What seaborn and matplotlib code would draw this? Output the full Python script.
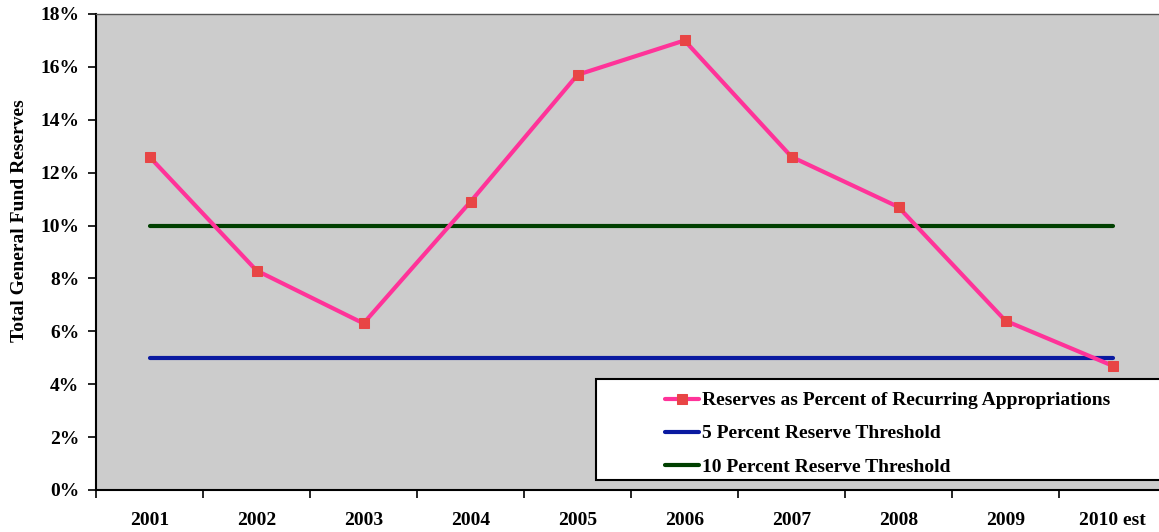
import matplotlib
matplotlib.use("Agg")
import matplotlib.pyplot as plt
from matplotlib.patches import Rectangle
import seaborn as sns
import pandas as pd

# Fiscal years and reserve levels (percent of recurring appropriations)
years = ["2001", "2002", "2003", "2004", "2005", "2006", "2007", "2008", "2009", "2010 est"]
reserves_pct = [12.6, 8.3, 6.3, 10.9, 15.7, 17.0, 12.6, 10.7, 6.4, 4.7]
threshold_5 = [5, 5, 5, 5, 5, 5, 5, 5, 5, 5]
threshold_10 = [10, 10, 10, 10, 10, 10, 10, 10, 10, 10]
y_ticks = [0, 2, 4, 6, 8, 10, 12, 14, 16, 18]

series_names = [
    "Reserves as Percent of Recurring Appropriations",
    "5 Percent Reserve Threshold",
    "10 Percent Reserve Threshold",
]

df = pd.DataFrame({
    "year": years * 3,
    "value": reserves_pct + threshold_5 + threshold_10,
    "series": [series_names[0]] * len(years)
    + [series_names[1]] * len(years)
    + [series_names[2]] * len(years),
})

sns.set_theme(style="white")
plt.rcParams["font.family"] = ["Liberation Serif", "DejaVu Serif"]
plt.rcParams["font.weight"] = "bold"
plt.rcParams["text.color"] = "black"
plt.rcParams["legend.labelcolor"] = "black"

fig = plt.figure(figsize=(11.59, 5.32), dpi=100)
fig.patch.set_facecolor("white")
W, H = 1159, 532
ax = fig.add_axes([96 / W, 42 / H, 1070 / W, 476 / H])
ax.set_facecolor("#CCCCCC")

palette = {
    series_names[0]: "#FF3399",
    series_names[1]: "#0A1AA0",
    series_names[2]: "#004000",
}

for name in [series_names[1], series_names[2], series_names[0]]:
    sub = df[df["series"] == name]
    is_main = name == series_names[0]
    sns.lineplot(
        data=sub, x="year", y="value", ax=ax, color=palette[name],
        linewidth=3.0, marker="s" if is_main else None,
        markersize=7, markerfacecolor="#E84545", markeredgecolor="#E84545",
        solid_capstyle="round", label=name, legend=False, sort=False,
        zorder=3 if is_main else 2,
    )

ax.set_xlim(-0.5, len(years) - 0.5)
ax.set_ylim(0, 18)
ax.set_yticks(y_ticks)
ax.set_yticklabels([f"{v}%" for v in y_ticks])
ax.set_xticks(range(len(years)))
ax.set_xticklabels(years)
ax.set_xticks([i - 0.5 for i in range(len(years) + 1)], minor=True)
ax.tick_params(axis="x", which="major", length=0, pad=16, labelsize=14)
ax.tick_params(axis="x", which="minor", length=6, width=1.2, color="black", bottom=True, direction="out")
ax.tick_params(axis="y", which="major", length=6, width=1.2, color="black", left=True,
               direction="out", pad=6, labelsize=14)
for lbl in ax.get_xticklabels() + ax.get_yticklabels():
    lbl.set_fontweight("bold")
    lbl.set_color("black")

ax.set_xlabel("")
ax.set_ylabel("")
for side in ["top", "right"]:
    ax.spines[side].set_visible(True)
    ax.spines[side].set_color("#555555")
    ax.spines[side].set_linewidth(1.0)
for side in ["left", "bottom"]:
    ax.spines[side].set_color("black")
    ax.spines[side].set_linewidth(1.5)

fig.text(20 / W, 1 - 221 / H, "Total General Fund Reserves", rotation=90,
         ha="center", va="center", fontsize=14, fontweight="bold", color="black")

# Legend box
box = Rectangle((596 / W, 1 - 480 / H), (W + 5 - 596) / W, 101 / H,
                transform=fig.transFigure, facecolor="white", edgecolor="black",
                linewidth=1.5, zorder=5, clip_on=False)
fig.add_artist(box)

handles, labels = ax.get_legend_handles_labels()
order = [labels.index(n) for n in series_names]
leg = fig.legend([handles[i] for i in order], [labels[i] for i in order],
                 loc="upper left", bbox_to_anchor=(655 / W, 1 - 382 / H),
                 frameon=False, handlelength=1.75, handletextpad=0.15,
                 labelspacing=0.8, borderpad=0.0, prop={"weight": "bold", "size": 14})
for t in leg.get_texts():
    t.set_color("black")
leg.set_zorder(6)

fig.savefig("out.png", dpi=100, facecolor="white")
